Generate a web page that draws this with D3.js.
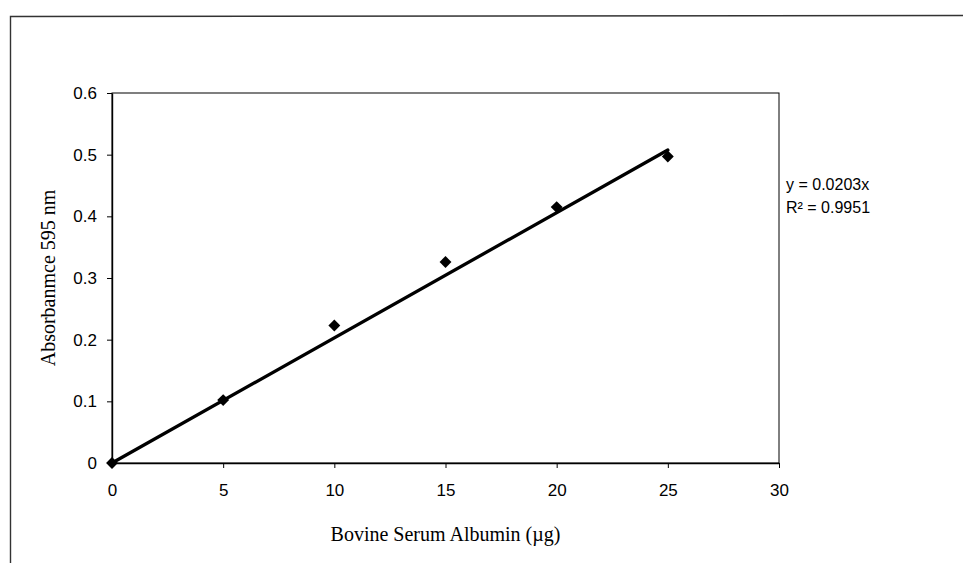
<!DOCTYPE html>
<html>
<head>
<meta charset="utf-8">
<script src="https://cdn.jsdelivr.net/npm/d3@7"></script>
<style>
  body { margin: 0; background: #fff; }
  svg { display: block; }
</style>
</head>
<body>
<svg id="chart" width="963" height="563"></svg>
<script>
// data
var bsa = [0, 5, 10, 15, 20, 25];
var absorbance = [0, 0.102, 0.223, 0.326, 0.415, 0.497];
var slope = 0.0203;
var xTicks = [0, 5, 10, 15, 20, 25, 30];
var yTicks = [0, 0.1, 0.2, 0.3, 0.4, 0.5, 0.6];
var eqLines = ["y = 0.0203x", "R² = 0.9951"];

var svg = d3.select("#chart"),
    margin = { left: 112, right: 184, top: 93, bottom: 100 },
    width = +svg.attr("width"),
    height = +svg.attr("height");

var x = d3.scaleLinear().domain([0, 30]).range([margin.left, width - margin.right]);
var y = d3.scaleLinear().domain([0, 0.6]).range([height - margin.bottom, margin.top]);

// outer frame of the scanned page (left and top only)
svg.append("path")
    .attr("d", "M10.5,563 L10.5,16.5 L963,15.5")
    .attr("fill", "none")
    .attr("stroke", "#333")
    .attr("stroke-width", 1.4);

// plot box
svg.append("rect")
    .attr("x", x(0)).attr("y", y(0.6))
    .attr("width", x(30) - x(0)).attr("height", y(0) - y(0.6))
    .attr("fill", "none")
    .attr("stroke", "#000")
    .attr("stroke-width", 1);

// axes
var yAxis = d3.axisLeft(y).tickValues(yTicks).tickSize(5).tickSizeOuter(0)
    .tickFormat(d => d === 0 ? "0" : d3.format(".1f")(d));
var xAxis = d3.axisBottom(x).tickValues(xTicks).tickSize(5).tickSizeOuter(0)
    .tickFormat(d3.format("d"));

var gy = svg.append("g").attr("transform", `translate(${x(0)},0)`).call(yAxis);
var gx = svg.append("g").attr("transform", `translate(0,${y(0)})`).call(xAxis);

[gx, gy].forEach(g => {
    g.select(".domain").attr("stroke", "#000").attr("stroke-width", 1.4);
    g.selectAll(".tick line").attr("stroke", "#000");
    g.selectAll("text")
        .attr("fill", "#000")
        .style("font-family", "'Liberation Sans', Arial, sans-serif")
        .style("font-size", "17px");
});
gy.selectAll("text").attr("x", -15);
gx.selectAll("text").attr("y", 21);

// trendline y = 0.0203x
svg.append("line")
    .attr("x1", x(0)).attr("y1", y(0))
    .attr("x2", x(25)).attr("y2", y(slope * 25))
    .attr("stroke", "#000")
    .attr("stroke-width", 3.3)
    .attr("stroke-linecap", "round");

// data points, diamonds
svg.selectAll(".pt")
    .data(bsa.map((d, i) => [d, absorbance[i]]))
    .join("path")
    .attr("class", "pt")
    .attr("d", d3.symbol().type(d3.symbolDiamond2).size(90))
    .attr("transform", d => `translate(${x(d[0])},${y(d[1])})`)
    .attr("fill", "#000");

// axis titles
svg.append("text")
    .attr("x", (x(0) + x(30)) / 2)
    .attr("y", 541)
    .attr("text-anchor", "middle")
    .style("font-family", "'Liberation Serif', 'Times New Roman', serif")
    .style("font-size", "20px")
    .text("Bovine Serum Albumin (µg)");

svg.append("text")
    .attr("transform", `translate(55,${(y(0) + y(0.6)) / 2}) rotate(-90)`)
    .attr("text-anchor", "middle")
    .style("font-family", "'Liberation Serif', 'Times New Roman', serif")
    .style("font-size", "20px")
    .text("Absorbanmce  595 nm");

// equation
svg.selectAll(".eq")
    .data(eqLines)
    .join("text")
    .attr("class", "eq")
    .attr("x", 786)
    .attr("y", (d, i) => 190 + i * 23)
    .style("font-family", "'Liberation Sans', Arial, sans-serif")
    .style("font-size", "16px")
    .text(d => d);
</script>
</body>
</html>
